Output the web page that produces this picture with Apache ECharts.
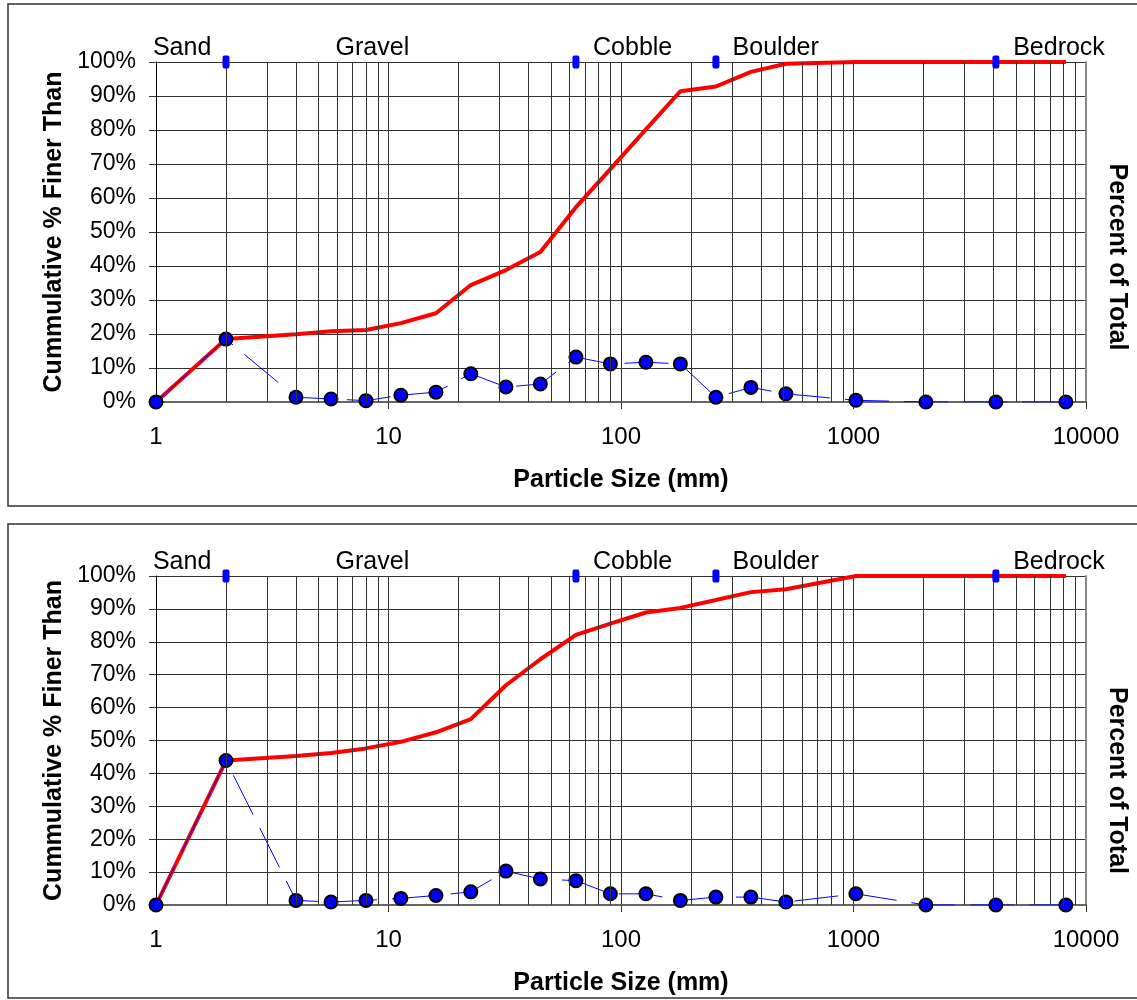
<!DOCTYPE html>
<html>
<head>
<meta charset="utf-8">
<script src="https://cdn.jsdelivr.net/npm/echarts@6/dist/echarts.min.js"></script>
<style>
html,body{margin:0;padding:0;background:#fff;overflow:hidden;}
#chart{width:1137px;height:1000px;}
</style>
</head>
<body>
<div id="chart"></div>
<script>
// ---- data ----
const sizes = [1, 2, 4, 5.66, 8, 11.3, 16, 22.6, 32, 45, 64, 90, 128, 180, 256, 362, 512, 1024, 2048, 4096, 8192];
const cumTop = [0, 18.5, 19.9, 20.8, 21.2, 23.2, 26.1, 34.4, 38.8, 44.1, 57.3, 68.5, 80.2, 91.4, 92.8, 97.1, 99.5, 100, 100, 100, 100];
const pctTop = [0, 18.5, 1.4, 0.9, 0.4, 2.0, 2.9, 8.3, 4.4, 5.3, 13.2, 11.2, 11.7, 11.2, 1.4, 4.3, 2.4, 0.5, 0, 0, 0];
const cumBottom = [0, 43.9, 45.3, 46.2, 47.6, 49.6, 52.5, 56.5, 66.8, 74.7, 82.1, 85.5, 88.9, 90.3, 92.7, 95.1, 96.0, 100, 100, 100, 100];
const pctBottom = [0, 43.9, 1.4, 0.9, 1.4, 2.0, 2.9, 4.0, 10.3, 7.9, 7.4, 3.4, 3.4, 1.4, 2.4, 2.4, 0.9, 3.4, 0, 0, 0];
const zoneBounds = [2, 64, 256, 4096];
const zoneNames = ['Sand', 'Gravel', 'Cobble', 'Boulder', 'Bedrock'];
const zoneLabelAt = [0.97, 5.92, 75.8, 302, 4860];
const xTicks = [1, 10, 100, 1000, 10000];
const yTickStep = 10;

const FONT = "'Liberation Sans', Arial, sans-serif";
const GRID_COLOR = '#333';

// minor log gridlines (axis styling)
const minorVals = [];
for (let d = 1; d < 10000; d *= 10) for (let k = 2; k <= 9; k++) minorVals.push(k * d);

const panels = [
  {top: 62, height: 340, cum: cumTop, pct: pctTop, rightPad: 50},
  {top: 576, height: 329, cum: cumBottom, pct: pctBottom, rightPad: 80}
];

const grid = [], xAxis = [], yAxis = [], series = [];
panels.forEach((p, i) => {
  grid.push({left: 156, right: 43, top: p.top, height: p.height, containLabel: false});
  xAxis.push({
    type: 'log', logBase: 10, min: xTicks[0], max: xTicks[xTicks.length - 1], gridIndex: i,
    axisLine: {show: true, onZero: false, lineStyle: {color: '#666', width: 2}},
    axisTick: {show: true, length: 7, lineStyle: {color: '#333'}},
    axisLabel: {fontSize: 24, color: '#000', margin: 23, fontFamily: FONT, showMinLabel: true, showMaxLabel: true,
      formatter: v => String(Math.round(v))},
    splitLine: {show: true, lineStyle: {color: GRID_COLOR, width: 1}},
    name: 'Particle Size (mm)', nameLocation: 'middle', nameGap: 66,
    nameTextStyle: {fontWeight: 'bold', fontSize: 25, color: '#000', fontFamily: FONT}
  });
  yAxis.push({
    type: 'value', min: 0, max: 100, interval: yTickStep, gridIndex: i, position: 'left',
    axisLine: {show: true, lineStyle: {color: '#000', width: 1}},
    axisTick: {show: true, length: 7, lineStyle: {color: '#333'}},
    axisLabel: {formatter: '{value}%', fontSize: 23, color: '#000', margin: 20, fontFamily: FONT},
    splitLine: {show: true, lineStyle: {color: GRID_COLOR, width: 1}},
    name: 'Cummulative % Finer Than', nameLocation: 'middle', nameGap: 88, nameRotate: 90,
    nameTextStyle: {fontWeight: 'bold', fontSize: 25, color: '#000', fontFamily: FONT}
  });
  yAxis.push({
    type: 'value', min: 0, max: 100, interval: yTickStep, gridIndex: i, position: 'right',
    axisLine: {show: true, lineStyle: {color: '#888', width: 2}},
    axisTick: {show: false}, axisLabel: {show: false}, splitLine: {show: false},
    name: 'Percent of Total', nameLocation: 'middle', nameGap: 18, nameRotate: -90,
    nameTextStyle: {fontWeight: 'bold', fontSize: 25, color: '#000', fontFamily: FONT, padding: [0, 0, 0, p.rightPad]}
  });
  const yl = i * 2, yr = i * 2 + 1;
  series.push({
    type: 'line', xAxisIndex: i, yAxisIndex: yl, data: [], z: 1, silent: true,
    markLine: {
      silent: true, symbol: ['none', 'none'], label: {show: false},
      lineStyle: {color: GRID_COLOR, width: 1, type: 'solid'},
      data: minorVals.map(v => ({xAxis: v}))
    }
  });
  series.push({
    name: 'Cumulative', type: 'line', xAxisIndex: i, yAxisIndex: yl, z: 3,
    data: sizes.map((s, k) => [s, p.cum[k]]),
    symbol: 'none', lineStyle: {color: '#ff0000', width: 4}
  });
  series.push({
    name: 'Percent', type: 'line', xAxisIndex: i, yAxisIndex: yr, z: 4,
    data: sizes.map((s, k) => [s, p.pct[k]]),
    symbol: 'circle', symbolSize: 13,
    itemStyle: {color: '#0000ff', borderColor: '#000', borderWidth: 2, opacity: 1},
    lineStyle: {color: '#0000ff', width: 1, type: [44, 15]}
  });
  series.push({
    type: 'scatter', xAxisIndex: i, yAxisIndex: yl, z: 5, clip: false,
    data: zoneBounds.map(b => [b, 100]),
    symbol: 'roundRect', symbolSize: [7, 13], itemStyle: {color: '#0000ff', opacity: 1}
  });
  series.push({
    type: 'scatter', xAxisIndex: i, yAxisIndex: yl, z: 5, clip: false, silent: true,
    data: zoneLabelAt.map((x, k) => ({value: [x, 100], name: zoneNames[k]})),
    symbolSize: 0, itemStyle: {color: '#000', opacity: 1},
    label: {show: true, formatter: '{b}', position: [0, -14], align: 'left', verticalAlign: 'middle',
      fontSize: 25, color: '#000', opacity: 1, fontFamily: FONT}
  });
});

const chart = echarts.init(document.getElementById('chart'), null, {renderer: 'canvas'});
chart.setOption({
  animation: false,
  backgroundColor: '#fff',
  textStyle: {fontFamily: FONT},
  grid, xAxis, yAxis, series,
  graphic: [
    {type: 'rect', shape: {x: 8, y: 4, width: 1140, height: 502}, style: {fill: 'none', stroke: '#333', lineWidth: 1.5}, silent: true, z: -1},
    {type: 'rect', shape: {x: 8, y: 524, width: 1140, height: 474}, style: {fill: 'none', stroke: '#333', lineWidth: 1.5}, silent: true, z: -1}
  ]
});
</script>
</body>
</html>
